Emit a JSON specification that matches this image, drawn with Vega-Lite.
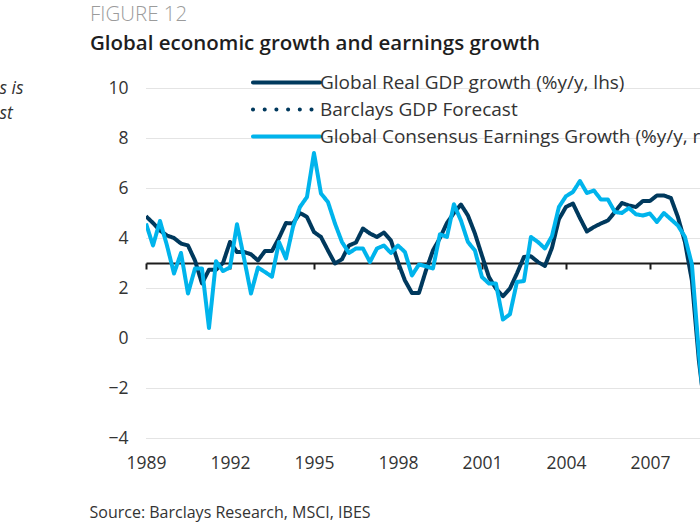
{
 "$schema": "https://vega.github.io/schema/vega-lite/v6.json",
 "width": 554,
 "height": 350,
 "autosize": {"type": "none"},
 "padding": {"left": 146, "top": 88, "right": 0, "bottom": 87},
 "background": "white",
 "config": {"view": {"stroke": null}, "font": "Open Sans"},
 "title": {
  "text": "FIGURE 12",
  "subtitle": "Global economic growth and earnings growth",
  "anchor": "start",
  "frame": "group",
  "dx": -56,
  "offset": 19,
  "font": "Open Sans",
  "fontSize": 20.5,
  "fontWeight": 300,
  "color": "#9b9b9b",
  "subtitleFont": "Open Sans",
  "subtitleFontSize": 20.5,
  "subtitleFontWeight": 600,
  "subtitleColor": "#1e1e1e",
  "subtitlePadding": 8
 },
 "datasets": {
  "gdp": [
   {"year": 1989.00, "value": 4.87}, {"year": 1989.25, "value": 4.6}, {"year": 1989.50, "value": 4.3}, {"year": 1989.75, "value": 4.1},
   {"year": 1990.00, "value": 4.0}, {"year": 1990.25, "value": 3.78}, {"year": 1990.50, "value": 3.7}, {"year": 1990.75, "value": 3.1},
   {"year": 1991.00, "value": 2.18}, {"year": 1991.25, "value": 2.73}, {"year": 1991.50, "value": 2.73}, {"year": 1991.75, "value": 3.0},
   {"year": 1992.00, "value": 3.84}, {"year": 1992.25, "value": 3.44}, {"year": 1992.50, "value": 3.44}, {"year": 1992.75, "value": 3.35},
   {"year": 1993.00, "value": 3.1}, {"year": 1993.25, "value": 3.48}, {"year": 1993.50, "value": 3.48}, {"year": 1993.75, "value": 4.0},
   {"year": 1994.00, "value": 4.6}, {"year": 1994.25, "value": 4.58}, {"year": 1994.50, "value": 5.0}, {"year": 1994.75, "value": 4.84},
   {"year": 1995.00, "value": 4.24}, {"year": 1995.25, "value": 4.04}, {"year": 1995.50, "value": 3.5}, {"year": 1995.75, "value": 2.98},
   {"year": 1996.00, "value": 3.15}, {"year": 1996.25, "value": 3.7}, {"year": 1996.50, "value": 3.82}, {"year": 1996.75, "value": 4.38},
   {"year": 1997.00, "value": 4.18}, {"year": 1997.25, "value": 4.04}, {"year": 1997.50, "value": 4.22}, {"year": 1997.75, "value": 3.9},
   {"year": 1998.00, "value": 3.04}, {"year": 1998.25, "value": 2.3}, {"year": 1998.50, "value": 1.8}, {"year": 1998.75, "value": 1.8},
   {"year": 1999.00, "value": 2.7}, {"year": 1999.25, "value": 3.5}, {"year": 1999.50, "value": 4.0}, {"year": 1999.75, "value": 4.6},
   {"year": 2000.00, "value": 5.0}, {"year": 2000.25, "value": 5.34}, {"year": 2000.50, "value": 4.9}, {"year": 2000.75, "value": 4.18},
   {"year": 2001.00, "value": 3.3}, {"year": 2001.25, "value": 2.44}, {"year": 2001.50, "value": 1.98}, {"year": 2001.75, "value": 1.67},
   {"year": 2002.00, "value": 1.98}, {"year": 2002.25, "value": 2.58}, {"year": 2002.50, "value": 3.24}, {"year": 2002.75, "value": 3.27},
   {"year": 2003.00, "value": 3.04}, {"year": 2003.25, "value": 2.88}, {"year": 2003.50, "value": 3.6}, {"year": 2003.75, "value": 4.75},
   {"year": 2004.00, "value": 5.24}, {"year": 2004.25, "value": 5.38}, {"year": 2004.50, "value": 4.8}, {"year": 2004.75, "value": 4.26},
   {"year": 2005.00, "value": 4.44}, {"year": 2005.25, "value": 4.58}, {"year": 2005.50, "value": 4.7}, {"year": 2005.75, "value": 5.04},
   {"year": 2006.00, "value": 5.4}, {"year": 2006.25, "value": 5.3}, {"year": 2006.50, "value": 5.24}, {"year": 2006.75, "value": 5.48},
   {"year": 2007.00, "value": 5.48}, {"year": 2007.25, "value": 5.7}, {"year": 2007.50, "value": 5.7}, {"year": 2007.75, "value": 5.6},
   {"year": 2008.00, "value": 4.84}, {"year": 2008.25, "value": 3.85}, {"year": 2008.50, "value": 2.3}, {"year": 2008.75, "value": -0.9},
   {"year": 2009.00, "value": -3.2}
  ],
  "eps": [
   {"year": 1989.00, "value": 4.58}, {"year": 1989.25, "value": 3.7}, {"year": 1989.50, "value": 4.68}, {"year": 1989.75, "value": 3.7},
   {"year": 1990.00, "value": 2.58}, {"year": 1990.25, "value": 3.4}, {"year": 1990.50, "value": 1.78}, {"year": 1990.75, "value": 2.78},
   {"year": 1991.00, "value": 2.78}, {"year": 1991.25, "value": 0.4}, {"year": 1991.50, "value": 3.07}, {"year": 1991.75, "value": 2.68},
   {"year": 1992.00, "value": 2.82}, {"year": 1992.25, "value": 4.55}, {"year": 1992.50, "value": 3.2}, {"year": 1992.75, "value": 1.78},
   {"year": 1993.00, "value": 2.82}, {"year": 1993.25, "value": 2.64}, {"year": 1993.50, "value": 2.45}, {"year": 1993.75, "value": 3.84},
   {"year": 1994.00, "value": 3.18}, {"year": 1994.25, "value": 4.44}, {"year": 1994.50, "value": 5.24}, {"year": 1994.75, "value": 5.64},
   {"year": 1995.00, "value": 7.4}, {"year": 1995.25, "value": 5.78}, {"year": 1995.50, "value": 5.44}, {"year": 1995.75, "value": 4.58},
   {"year": 1996.00, "value": 3.84}, {"year": 1996.25, "value": 3.4}, {"year": 1996.50, "value": 3.58}, {"year": 1996.75, "value": 3.58},
   {"year": 1997.00, "value": 3.04}, {"year": 1997.25, "value": 3.58}, {"year": 1997.50, "value": 3.7}, {"year": 1997.75, "value": 3.4},
   {"year": 1998.00, "value": 3.7}, {"year": 1998.25, "value": 3.44}, {"year": 1998.50, "value": 2.5}, {"year": 1998.75, "value": 2.94},
   {"year": 1999.00, "value": 2.87}, {"year": 1999.25, "value": 2.78}, {"year": 1999.50, "value": 4.15}, {"year": 1999.75, "value": 4.04},
   {"year": 2000.00, "value": 5.35}, {"year": 2000.25, "value": 4.7}, {"year": 2000.50, "value": 3.84}, {"year": 2000.75, "value": 3.5},
   {"year": 2001.00, "value": 2.44}, {"year": 2001.25, "value": 2.18}, {"year": 2001.50, "value": 2.18}, {"year": 2001.75, "value": 0.74},
   {"year": 2002.00, "value": 0.95}, {"year": 2002.25, "value": 2.24}, {"year": 2002.50, "value": 2.28}, {"year": 2002.75, "value": 4.04},
   {"year": 2003.00, "value": 3.84}, {"year": 2003.25, "value": 3.58}, {"year": 2003.50, "value": 4.07}, {"year": 2003.75, "value": 5.24},
   {"year": 2004.00, "value": 5.67}, {"year": 2004.25, "value": 5.84}, {"year": 2004.50, "value": 6.28}, {"year": 2004.75, "value": 5.8},
   {"year": 2005.00, "value": 5.9}, {"year": 2005.25, "value": 5.54}, {"year": 2005.50, "value": 5.54}, {"year": 2005.75, "value": 5.04},
   {"year": 2006.00, "value": 5.0}, {"year": 2006.25, "value": 5.2}, {"year": 2006.50, "value": 4.95}, {"year": 2006.75, "value": 4.9},
   {"year": 2007.00, "value": 4.98}, {"year": 2007.25, "value": 4.64}, {"year": 2007.50, "value": 5.0}, {"year": 2007.75, "value": 4.75},
   {"year": 2008.00, "value": 4.5}, {"year": 2008.25, "value": 4.05}, {"year": 2008.50, "value": 2.95}, {"year": 2008.75, "value": -0.6},
   {"year": 2009.00, "value": -3.5}
  ]
 },
 "layer": [
  {
   "data": {"name": "gdp"},
   "transform": [{"calculate": "'Global Real GDP growth (%y/y, lhs)'", "as": "series"}],
   "mark": {"type": "line", "strokeWidth": 4, "clip": true, "strokeJoin": "round"},
   "encoding": {
    "x": {"field": "year", "type": "quantitative",
     "scale": {"domain": [1989, 2008.79], "nice": false, "zero": false},
     "axis": {"values": [1989, 1992, 1995, 1998, 2001, 2004, 2007], "format": "d", "offset": -175,
      "domain": true, "domainColor": "#1c1c1c", "domainWidth": 2,
      "ticks": true, "tickSize": 6, "tickWidth": 2, "tickColor": "#1c1c1c", "grid": false,
      "labelFont": "Open Sans", "labelFontSize": 17.5, "labelColor": "#333333", "labelPadding": 199,
      "labelBaseline": "alphabetic", "labelFlush": false, "labelOverlap": false,
      "title": "Source: Barclays Research, MSCI, IBES", "titleX": -57, "titleY": 254,
      "titleAlign": "left", "titleBaseline": "alphabetic", "titleFont": "Open Sans",
      "titleFontSize": 16, "titleFontWeight": "normal", "titleColor": "#333333"}},
    "y": {"field": "value", "type": "quantitative",
     "scale": {"domain": [-4, 10], "nice": false, "zero": false},
     "axis": {"values": [-4, -2, 0, 2, 4, 6, 8, 10], "domain": false, "ticks": false, "grid": true,
      "gridColor": "#c8c8c8", "gridDash": [1, 1], "gridWidth": 1,
      "labelPadding": 18, "labelFontSize": 17.5, "labelColor": "#333333", "labelFont": "Open Sans",
      "title": ["s is", "st"], "titleAngle": 0, "titleX": -147, "titleY": 5, "titleAlign": "left",
      "titleBaseline": "alphabetic", "titleFontStyle": "italic", "titleFontWeight": "normal",
      "titleFontSize": 17.5, "titleColor": "#333333", "titleLineHeight": 25, "titleFont": "Open Sans"}},
    "color": {"field": "series", "type": "nominal",
     "scale": {"domain": ["Global Real GDP growth (%y/y, lhs)", "Barclays GDP Forecast", "Global Consensus Earnings Growth (%y/y, rhs)"],
      "range": ["#00395d", "#00395d", "#00b4ec"]},
     "legend": {"title": null, "orient": "none", "legendX": 104, "legendY": -15, "direction": "vertical",
      "symbolType": "M-6,0H6", "symbolSize": 125, "symbolStrokeWidth": 4, "symbolOffset": 27,
      "labelOffset": 24, "labelFont": "Open Sans", "labelFontSize": 19, "labelColor": "#333333",
      "rowPadding": 7, "padding": 0, "labelLimit": 700,
      "encode": {"symbols": {"update": {"strokeCap": {"value": "round"}, "fill": {"value": "transparent"}}}}}},
    "strokeDash": {"field": "series", "type": "nominal",
     "scale": {"domain": ["Global Real GDP growth (%y/y, lhs)", "Barclays GDP Forecast", "Global Consensus Earnings Growth (%y/y, rhs)"],
      "range": [[1, 0], [0.1, 11.6], [1, 0]]},
     "legend": {"title": null, "orient": "none", "legendX": 104, "legendY": -15, "direction": "vertical",
      "symbolType": "M-6,0H6", "symbolSize": 125, "symbolStrokeWidth": 4, "symbolOffset": 27,
      "labelOffset": 24, "labelFont": "Open Sans", "labelFontSize": 19, "labelColor": "#333333",
      "rowPadding": 7, "padding": 0, "labelLimit": 700,
      "encode": {"symbols": {"update": {"strokeCap": {"value": "round"}, "fill": {"value": "transparent"}}}}}}
   }
  },
  {
   "data": {"name": "eps"},
   "transform": [{"calculate": "'Global Consensus Earnings Growth (%y/y, rhs)'", "as": "series"}],
   "mark": {"type": "line", "strokeWidth": 4, "clip": true, "strokeJoin": "round"},
   "encoding": {
    "x": {"field": "year", "type": "quantitative"},
    "y": {"field": "value", "type": "quantitative"},
    "color": {"field": "series", "type": "nominal"},
    "strokeDash": {"field": "series", "type": "nominal"}
   }
  }
 ]
}
